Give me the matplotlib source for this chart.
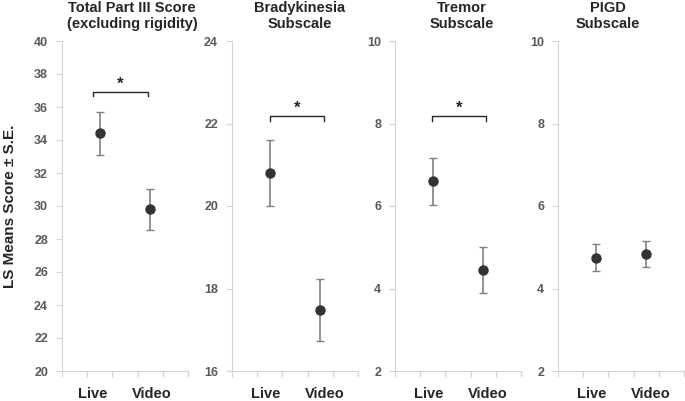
import numpy as np
import matplotlib
matplotlib.use("Agg")
import matplotlib.pyplot as plt

plt.rcParams['font.family'] = ['Liberation Sans', 'DejaVu Sans']

# Data
titles = ["Total Part III Score\n(excluding rigidity)", "Bradykinesia\nSubscale",
          "Tremor\nSubscale", "PIGD\nSubscale"]
groups = ["Live", "Video"]
means = [[34.4, 29.8], [20.8, 17.47], [6.6, 4.45], [4.75, 4.83]]
errs = [[1.3, 1.25], [0.81, 0.75], [0.57, 0.56], [0.33, 0.32]]
ylims = [(20, 40), (16, 24), (2, 10), (2, 10)]
ysteps = [2, 2, 2, 2]
# significance brackets: (x0, x1, y, drop) or None
brackets = [(1.23, 3.41, 36.9, 0.23), (1.5, 3.65, 22.18, 0.12),
            (1.47, 3.61, 8.18, 0.12), None]

xpos = [1.5, 3.5]
label_x = [1.23, 3.57]

fig = plt.figure(figsize=(6.85, 4.01), dpi=100)
W, H = 685, 401
lefts = [62, 232, 395, 558]
title_cx = [132, 300, 462, 608]
ax_w = 126
top, bottom = 41, 371

axis_col = '#d4d4d4'
tick_col = '#595959'
dark = '#333333'

for i in range(4):
    ax = fig.add_axes([lefts[i] / W, (H - bottom) / H, ax_w / W, (bottom - top) / H])
    ax.errorbar(xpos, means[i], yerr=errs[i], fmt='o', color=dark, ms=6.5,
                ecolor='#808080', elinewidth=1.2, capsize=3, capthick=1.0, zorder=3)
    ax.set_xlim(0, 5)
    ax.set_ylim(*ylims[i])
    ax.set_yticks(np.arange(ylims[i][0], ylims[i][1] + 0.01, ysteps[i]))
    ax.set_yticklabels([f"{v:g}" for v in ax.get_yticks()], fontsize=9,
                       fontweight='bold', color=tick_col)
    ax.set_xticks(np.arange(0, 6))
    ax.set_xticklabels([])
    ax.tick_params(axis='both', color=axis_col, length=4, width=0.8)
    ax.tick_params(axis='y', pad=6)
    for s in ['top', 'right']:
        ax.spines[s].set_visible(False)
    for s in ['left', 'bottom']:
        ax.spines[s].set_color(axis_col)
        ax.spines[s].set_linewidth(0.8)
    ax.patch.set_alpha(0)
    for g, lx in zip(groups, label_x):
        ax.text(lx if i == 0 else lx + 0.1, -0.07, g, transform=ax.get_xaxis_transform(),
                ha='center', va='center', fontsize=10.5, fontweight='bold', color='#262626')
    if brackets[i] is not None:
        x0, x1, y, d = brackets[i]
        ax.plot([x0, x0, x1, x1], [y - d, y, y, y - d], color='#262626', lw=1.0,
                clip_on=False)
        ax.text((x0 + x1) / 2, y, '*', ha='center', va='bottom', fontsize=12,
                fontweight='bold', color='#262626')
    fig.text(title_cx[i] / W, 1 - 1 / H, titles[i], ha='center', va='top',
             fontsize=10.5, fontweight='bold', color='#262626', linespacing=1.15)

fig.text(10 / W, (H - 206) / H, "LS Means Score \u00b1 S.E.", rotation=90,
         ha='center', va='center', fontsize=11, fontweight='bold', color='#262626')

fig.savefig("out.png", dpi=100)
